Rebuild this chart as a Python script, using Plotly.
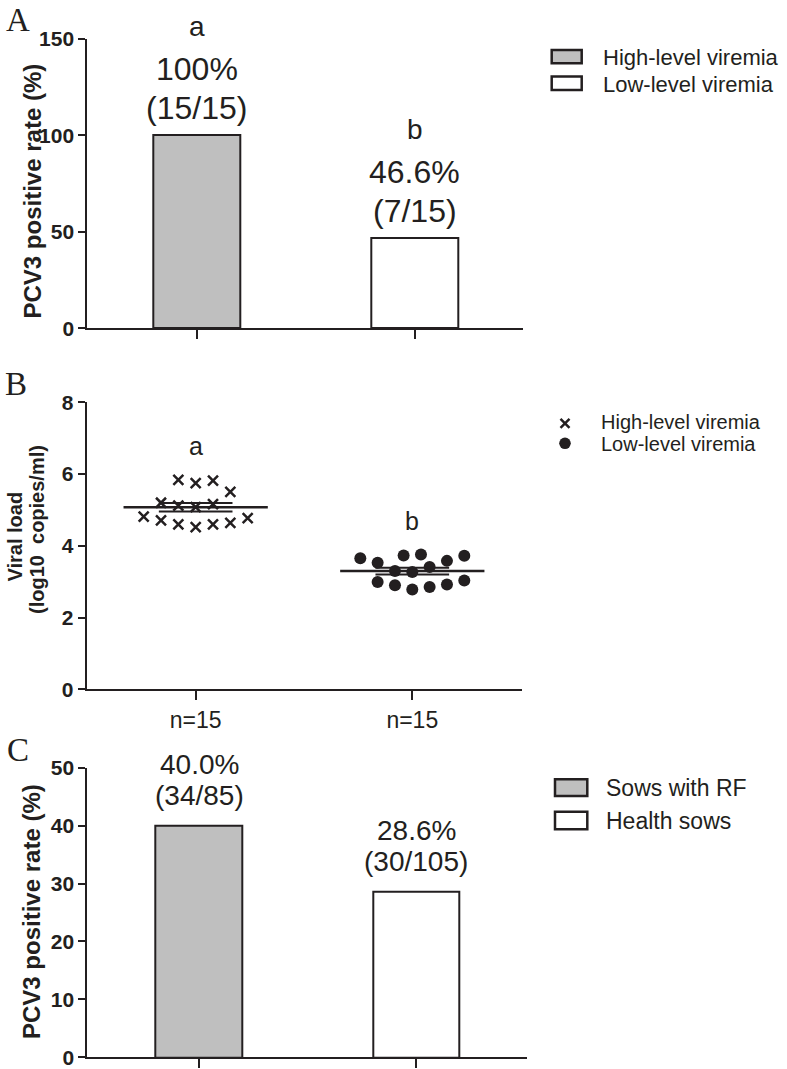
import numpy as np
import plotly.graph_objects as go

# ---------------- data ----------------
# Panel A: PCV3 positive rate by viremia level
groups_A = ["High-level viremia", "Low-level viremia"]
rate_A = [100, 46.6]
pct_A = ["100%", "46.6%"]
frac_A = ["(15/15)", "(7/15)"]
sig_A = ["a", "b"]

# Panel B: viral load (log10 copies/ml), column scatter
high_load = [5.84, 5.75, 5.82, 5.50, 5.20, 5.12, 5.08, 5.16,
             4.81, 4.71, 4.60, 4.52, 4.60, 4.64, 4.77]
high_jitter = [-1, 0, 1, 2, -2, -1, 0, 1, -3, -2, -1, 0, 1, 2, 3]
low_load = [3.65, 3.53, 3.73, 3.76, 3.58, 3.72, 3.30, 3.27, 3.41,
            2.99, 2.90, 2.78, 2.85, 2.92, 3.03]
low_jitter = [-3, -2, -0.5, 0.5, 2, 3, -1, 0, 1, -2, -1, 0, 1, 2, 3]
n_labels_B = ["n=15", "n=15"]
sig_B = ["a", "b"]

# Panel C: PCV3 positive rate by sow health
groups_C = ["Sows with RF", "Health sows"]
rate_C = [40.0, 28.6]
pct_C = ["40.0%", "28.6%"]
frac_C = ["(34/85)", "(30/105)"]

# ---------------- style ----------------
FW, FH = 787, 1069
FONT = "Liberation Sans, Arial, sans-serif"
SERIF = "Liberation Serif, Times New Roman, serif"
INK = "#231f20"
GRAY = "#bfbfbf"
fills = [GRAY, "white"]


def px(x):
    return x / FW


def py(y):
    return 1 - y / FH


fig = go.Figure()

# Panel A bars
for i, g in enumerate(groups_A):
    fig.add_trace(go.Bar(x=[i], y=[rate_A[i]], width=0.4, name=g,
                         marker=dict(color=fills[i], line=dict(color=INK, width=2)),
                         xaxis="x", yaxis="y", showlegend=False))

# Panel B scatter
slot = 0.08
loads = [high_load, low_load]
jit = [high_jitter, low_jitter]
for i in range(2):
    xs = i + np.array(jit[i]) * slot
    if i == 0:
        mk = dict(symbol="x-thin", size=10, line=dict(width=2.5, color=INK))
    else:
        mk = dict(symbol="circle", size=12, color=INK, line=dict(width=0))
    fig.add_trace(go.Scatter(x=xs, y=loads[i], mode="markers", marker=mk,
                             name=groups_A[i], xaxis="x2", yaxis="y2", showlegend=False))
    vals = np.array(loads[i])
    m = vals.mean()
    sem = vals.std(ddof=1) / np.sqrt(len(vals))
    fig.add_trace(go.Scatter(x=[i - 0.333, i + 0.333], y=[m, m], mode="lines",
                             line=dict(color=INK, width=2.5), xaxis="x2", yaxis="y2",
                             showlegend=False, hoverinfo="skip"))
    for s in (m - sem, m + sem):
        fig.add_trace(go.Scatter(x=[i - 0.17, i + 0.17], y=[s, s], mode="lines",
                                 line=dict(color=INK, width=2), xaxis="x2", yaxis="y2",
                                 showlegend=False, hoverinfo="skip"))

# Panel C bars
for i, g in enumerate(groups_C):
    fig.add_trace(go.Bar(x=[i], y=[rate_C[i]], width=0.4, name=g,
                         marker=dict(color=fills[i], line=dict(color=INK, width=2)),
                         xaxis="x3", yaxis="y3", showlegend=False))

yax = dict(showgrid=False, zeroline=False, showline=True, linewidth=2, linecolor=INK,
           ticks="outside", ticklen=7, tickwidth=2, tickcolor=INK, automargin=False,
           tickfont=dict(family=FONT, size=21, color=INK, weight="bold"))
xax = dict(showgrid=False, zeroline=False, showline=True, linewidth=2, linecolor=INK,
           ticks="outside", ticklen=9, tickwidth=2, tickcolor=INK, tickvals=[0, 1],
           automargin=False)

fig.update_layout(
    width=FW, height=FH, margin=dict(l=0, r=0, t=0, b=0, pad=0, autoexpand=False),
    plot_bgcolor="white", paper_bgcolor="white", showlegend=False,
    bargap=0,
    xaxis=dict(xax, domain=[px(87.3), px(523)], range=[-0.5018, 1.4968],
               showticklabels=False, anchor="y"),
    yaxis=dict(yax, domain=[py(328.3), py(39)], range=[0, 150],
               tickvals=[0, 50, 100, 150], anchor="x"),
    xaxis2=dict(xax, domain=[px(86.7), px(521.7)], range=[-0.503, 1.505],
                ticktext=n_labels_B, anchor="y2",
                tickfont=dict(family=FONT, size=23, color=INK)),
    yaxis2=dict(yax, domain=[py(689.3), py(402.3)], range=[0, 8],
                tickvals=[0, 2, 4, 6, 8], anchor="x2"),
    xaxis3=dict(xax, domain=[px(87.3), px(526.7)], range=[-0.514, 1.508],
                showticklabels=False, anchor="y3"),
    yaxis3=dict(yax, domain=[py(1057.3), py(767.7)], range=[0, 50],
                tickvals=[0, 10, 20, 30, 40, 50], anchor="x3"),
)

ann = []
# Panel A bar labels
for i in range(2):
    ann.append(dict(x=i, y=rate_A[i], xref="x", yref="y", text=sig_A[i],
                    yshift=109, font=dict(family=FONT, size=28, color=INK)))
    ann.append(dict(x=i, y=rate_A[i], xref="x", yref="y", text=pct_A[i],
                    yshift=66, font=dict(family=FONT, size=32, color=INK)))
    ann.append(dict(x=i, y=rate_A[i], xref="x", yref="y", text=frac_A[i],
                    yshift=27, font=dict(family=FONT, size=32, color=INK)))
# Panel B significance letters
for i in range(2):
    ann.append(dict(x=i, y=max(loads[i]) + 0.93, xref="x2", yref="y2", text=sig_B[i],
                    font=dict(family=FONT, size=25, color=INK)))
# Panel C bar labels
for i in range(2):
    ann.append(dict(x=i, y=rate_C[i], xref="x3", yref="y3", text=pct_C[i],
                    yshift=61, font=dict(family=FONT, size=28, color=INK)))
    ann.append(dict(x=i, y=rate_C[i], xref="x3", yref="y3", text=frac_C[i],
                    yshift=30, font=dict(family=FONT, size=28, color=INK)))

# Axis titles
bold_title = dict(family=FONT, size=24, color=INK, weight="bold")
ann.append(dict(x=px(31.5), y=py(191), xref="paper", yref="paper", text="PCV3 positive rate (%)",
                textangle=-90, font=bold_title))
ann.append(dict(x=px(31.5), y=py(911.5), xref="paper", yref="paper", text="PCV3 positive rate (%)",
                textangle=-90, font=bold_title))
ann.append(dict(x=px(14.5), y=py(537), xref="paper", yref="paper", text="Viral load",
                textangle=-90, font=dict(family=FONT, size=20, color=INK, weight="bold")))
ann.append(dict(x=px(37), y=py(530), xref="paper", yref="paper", text="(log10\u00a0 copies/ml)",
                textangle=-90, font=dict(family=FONT, size=20, color=INK, weight="bold")))

# Panel letters
for letter, cx, cy in [("A", 18, 20), ("B", 16, 384), ("C", 17.5, 750)]:
    ann.append(dict(x=px(cx), y=py(cy), xref="paper", yref="paper", text=letter,
                    font=dict(family=SERIF, size=33, color=INK)))

for a in ann:
    a.update(showarrow=False, xanchor="center", yanchor="middle")

# Legend texts
legA = dict(family=FONT, size=22, color=INK)
legB = dict(family=FONT, size=20, color=INK)
legC = dict(family=FONT, size=23, color=INK)
leg_ann = [
    dict(x=px(600.5), y=py(57.6), text=groups_A[0], font=legA),
    dict(x=px(600.5), y=py(84.3), text=groups_A[1], font=legA),
    dict(x=px(599), y=py(422), text=groups_A[0], font=legB),
    dict(x=px(599), y=py(444), text=groups_A[1], font=legB),
    dict(x=px(604), y=py(787.6), text=groups_C[0], font=legC),
    dict(x=px(604), y=py(820.9), text=groups_C[1], font=legC),
]
for a in leg_ann:
    a.update(xref="paper", yref="paper", xanchor="left", yanchor="middle", showarrow=False)
ann += leg_ann

fig.update_layout(annotations=ann)

# Legend swatches
shapes = []
for (x0, x1, y0, y1, fc) in [(551.7, 581.7, 50, 63.3, GRAY), (551.7, 581.7, 76.5, 90, "white"),
                             (555, 587.3, 779.3, 796, GRAY), (555, 587.3, 811.7, 829.3, "white")]:
    shapes.append(dict(type="rect", xref="paper", yref="paper", x0=px(x0), x1=px(x1),
                       y0=py(y1), y1=py(y0), fillcolor=fc, line=dict(color=INK, width=2.5)))
# B legend markers
cx, cy, r = 565, 423.3, 4.5
shapes.append(dict(type="line", xref="paper", yref="paper", x0=px(cx - r), x1=px(cx + r),
                   y0=py(cy - r), y1=py(cy + r), line=dict(color=INK, width=2.5)))
shapes.append(dict(type="line", xref="paper", yref="paper", x0=px(cx - r), x1=px(cx + r),
                   y0=py(cy + r), y1=py(cy - r), line=dict(color=INK, width=2.5)))
cx, cy, r = 565, 443.3, 5.8
shapes.append(dict(type="circle", xref="paper", yref="paper", x0=px(cx - r), x1=px(cx + r),
                   y0=py(cy + r), y1=py(cy - r), fillcolor=INK, line=dict(color=INK, width=0)))
fig.update_layout(shapes=shapes)

# remove the default page margin so the figure sits at the window's top-left corner
fig.write_html("out.html", config={"displayModeBar": False},
               post_script="document.body.style.margin='0';")
